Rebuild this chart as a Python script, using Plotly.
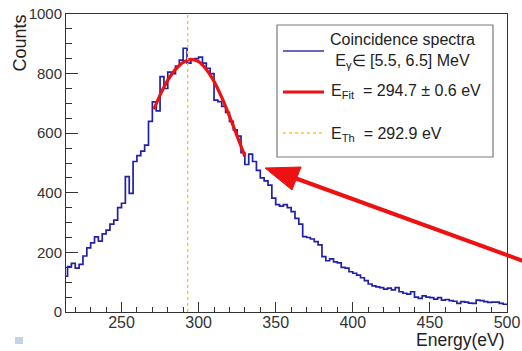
import plotly.graph_objects as go

# ---------------- data ----------------
BIN_START = 212.5
BIN_WIDTH = 2.5
COUNTS = [
    120, 152, 163, 147, 160, 188, 215, 232, 252, 238,
    262, 275, 295, 308, 350, 365, 454, 398, 505, 525,
    540, 560, 640, 705, 675, 790, 750, 805, 800, 825,
    845, 885, 835, 845, 850, 855, 835, 818, 800, 711,
    706, 690, 670, 640, 611, 590, 535, 495, 530, 505,
    475, 450, 440, 426, 382, 360, 355, 360, 350, 337,
    314, 295, 253, 250, 245, 236, 225, 186, 172, 178,
    168, 165, 150, 147, 135, 130, 124, 115, 105, 94,
    88, 84, 82, 77, 80, 74, 82, 68, 63, 60,
    68, 50, 46, 54, 50, 48, 43, 48, 40, 42,
    38, 36, 29, 35, 33, 30, 29, 40, 38, 35,
    32, 33, 33, 29, 26,
]
FIT_E = [271, 275, 280, 285, 290, 295, 300, 305, 310, 315, 320, 325, 330]
FIT_COUNTS = [680, 728, 778, 814, 838, 848, 840, 814, 774, 720, 657, 590, 522]
E_TH = 292.9
X_TICKS = [250, 300, 350, 400, 450, 500]
Y_TICKS = [0, 200, 400, 600, 800, 1000]

LEGEND_TEXT_1 = "Coincidence spectra<br>E<sub>\u03b3</sub>\u2208 [5.5, 6.5] MeV"
LEGEND_TEXT_2 = "E<sub>Fit</sub> \u00a0= 294.7 \u00b1 0.6 eV"
LEGEND_TEXT_3 = "E<sub>Th</sub> \u00a0= 292.9 eV"

# ---------------- geometry helpers ----------------
W, H = 522, 351
L, R, T, B = 66, 15, 14, 39
PW, PH = W - L - R, H - T - B


def px(x):
    return (x - L) / PW


def py(y):
    return (H - B - y) / PH


FONT = "Liberation Sans, Arial, Helvetica, sans-serif"
BLUE = "#2020a8"
RED = "#ee1111"
YELLOW = "#ffc61a"
AXC = "#333333"

edges = [BIN_START + BIN_WIDTH * i for i in range(len(COUNTS) + 1)]
steps_y = COUNTS + [COUNTS[-1]]

fig = go.Figure()
fig.add_trace(go.Scatter(x=edges, y=steps_y, mode="lines", line_shape="hv",
                         line=dict(color=BLUE, width=1.7), showlegend=False,
                         hoverinfo="skip"))
fig.add_trace(go.Scatter(x=FIT_E, y=FIT_COUNTS, mode="lines", line_shape="spline",
                         line=dict(color=RED, width=3.2), showlegend=False,
                         hoverinfo="skip"))
fig.add_trace(go.Scatter(x=[E_TH, E_TH], y=[Y_TICKS[0], Y_TICKS[-1]], mode="lines",
                         line=dict(color=YELLOW, width=1.5, dash="dot"),
                         showlegend=False, hoverinfo="skip"))

shapes = []
# legend box
shapes.append(dict(type="rect", xref="paper", yref="paper",
                   x0=px(277), x1=px(493), y0=py(157), y1=py(25),
                   line=dict(color="#7a7a7a", width=1.2), fillcolor="white",
                   layer="above"))
# legend samples
shapes.append(dict(type="line", xref="paper", yref="paper",
                   x0=px(283), x1=px(324), y0=py(51), y1=py(51),
                   line=dict(color="#3535b5", width=1.6)))
shapes.append(dict(type="line", xref="paper", yref="paper",
                   x0=px(283), x1=px(324), y0=py(92), y1=py(92),
                   line=dict(color=RED, width=3.2)))
shapes.append(dict(type="line", xref="paper", yref="paper",
                   x0=px(283), x1=px(324), y0=py(133), y1=py(133),
                   line=dict(color=YELLOW, width=1.5, dash="dot")))
# red arrow
shapes.append(dict(type="line", xref="paper", yref="paper",
                   x0=px(292), x1=px(526), y0=py(177), y1=py(262),
                   line=dict(color=RED, width=4)))
shapes.append(dict(type="path", xref="paper", yref="paper",
                   path="M {} {} L {} {} L {} {} Z".format(
                       px(265), py(168), px(301), py(167), px(292), py(190)),
                   fillcolor=RED, line=dict(color=RED, width=1)))
# small square bottom-left
shapes.append(dict(type="rect", xref="paper", yref="paper",
                   x0=px(15), x1=px(23), y0=py(344), y1=py(337),
                   fillcolor="#c5d4e4", line=dict(width=0)))

annotations = [
    dict(text=LEGEND_TEXT_1, xref="paper", yref="paper", x=px(402), y=py(51),
         xanchor="center", yanchor="middle", align="center", showarrow=False,
         font=dict(family=FONT, size=16, color="#222")),
    dict(text=LEGEND_TEXT_2, xref="paper", yref="paper", x=px(329), y=py(92),
         xanchor="left", yanchor="middle", align="left", showarrow=False,
         font=dict(family=FONT, size=16, color="#222")),
    dict(text=LEGEND_TEXT_3, xref="paper", yref="paper", x=px(329), y=py(134),
         xanchor="left", yanchor="middle", align="left", showarrow=False,
         font=dict(family=FONT, size=16, color="#222")),
    dict(text="Counts", xref="paper", yref="paper", x=px(20), y=py(13),
         xanchor="center", yanchor="top", textangle=-90, showarrow=False,
         font=dict(family=FONT, size=18, color="#222")),
    dict(text="Energy(eV)", xref="paper", yref="paper", x=px(507), y=py(340.5),
         xanchor="right", yanchor="middle", showarrow=False,
         font=dict(family=FONT, size=17.5, color="#222")),
]

fig.update_layout(
    width=W, height=H,
    margin=dict(l=L, r=R, t=T, b=B, pad=0, autoexpand=False),
    paper_bgcolor="white", plot_bgcolor="white",
    shapes=shapes, annotations=annotations, showlegend=False,
    font=dict(family=FONT, color=AXC),
)
fig.update_xaxes(range=[214, 500], tickvals=X_TICKS, showgrid=False, zeroline=False,
                 automargin=False, ticklabelstandoff=-4,
                 showline=True, linecolor=AXC, linewidth=1, mirror=True,
                 ticks="inside", ticklen=10, tickwidth=1, tickcolor=AXC,
                 minor=dict(ticks="inside", ticklen=5, dtick=10, tick0=0,
                            tickcolor=AXC, showgrid=False),
                 tickfont=dict(family=FONT, size=16, color=AXC))
fig.update_yaxes(range=[0, 1000], tickvals=Y_TICKS, showgrid=False, zeroline=False,
                 automargin=False,
                 showline=True, linecolor=AXC, linewidth=1, mirror=True,
                 ticks="inside", ticklen=12, tickwidth=1, tickcolor=AXC,
                 minor=dict(ticks="inside", ticklen=6, dtick=50, tick0=0,
                            tickcolor=AXC, showgrid=False),
                 tickfont=dict(family=FONT, size=15, color=AXC))

fig.write_html("out.html",
               config={"displayModeBar": False, "displaylogo": False},
               post_script="document.body.style.margin='0';"
                           "document.body.style.overflow='hidden';")
